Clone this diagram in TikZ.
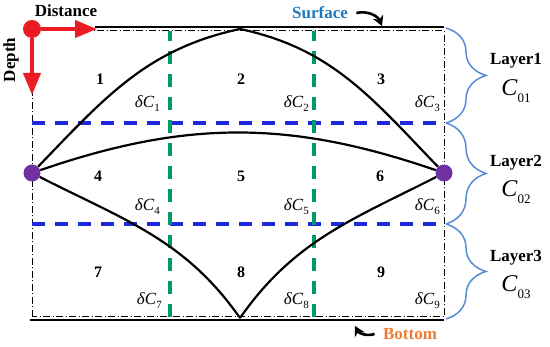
\documentclass[tikz,border=0pt]{standalone}
\usepackage{fontspec}
\setmainfont{Liberation Serif}
\usetikzlibrary{positioning,arrows.meta,calc,decorations.pathreplacing}

\definecolor{axred}{RGB}{236,28,36}
\definecolor{dotpurple}{RGB}{112,48,160}
\definecolor{layblue}{RGB}{30,40,220}
\definecolor{colgreen}{RGB}{0,155,105}
\definecolor{surfblue}{RGB}{31,121,190}
\definecolor{botorange}{RGB}{237,125,49}
\definecolor{bracblue}{RGB}{84,141,212}

\newcommand{\dC}[1]{\textit{δC}\raisebox{-0.5ex}{\fontsize{11}{11}\selectfont #1}}
\newcommand{\conc}[1]{\textit{C}\raisebox{-0.6ex}{\fontsize{13}{13}\selectfont #1}}

\begin{document}
\begin{tikzpicture}[x=1pt,y=1pt,
                num/.style={font=\fontsize{16}{16}\selectfont\bfseries},
                dlabel/.style={anchor=east, inner sep=0pt, font=\fontsize{17}{17}\selectfont},
                layer/.style={font=\fontsize{17}{17}\selectfont\bfseries},
                conclabel/.style={font=\fontsize{24}{24}\selectfont},
                bound/.style={line width=1pt, dash pattern=on 7pt off 2.5pt on 1pt off 2.5pt},
                layerline/.style={draw=layblue, line width=3.3pt, dash pattern=on 13pt off 10pt},
                colline/.style={draw=colgreen, line width=3.3pt, dash pattern=on 13pt off 10pt},
                curve/.style={line width=2.2pt},
                axis/.style={draw=axred, line width=4pt, -{Triangle[length=22pt,width=17pt]}},
                pdot/.style={circle, fill=dotpurple, inner sep=0pt, minimum size=17pt},
                laybrace/.style={draw=bracblue, line width=1.5pt, decorate,
                    decoration={brace, amplitude=40pt}},
                pointer/.style={line width=2.6pt, -{Stealth[length=10pt,width=11pt]}}
            ]
                \useasboundingbox (0,0) rectangle (550,347);

                % frame of the section
                \draw[bound] (32,30) rectangle (444,316);
                \draw[line width=1.1pt] (95,320) -- (444,320);
                \draw[line width=1.1pt] (30,27) -- (444,27);

                % layer and column limits
                \draw[layerline] (32,224) -- (444,224);
                \draw[layerline] (32,123) -- (444,123);
                \draw[colline] (170,30) -- (170,316);
                \draw[colline] (314,30) -- (314,316);

                % source and receiver
                \node[pdot] (lp) at (32,174) {};
                \node[pdot] (rp) at (444,174) {};
                \coordinate (top) at (240,318);
                \coordinate (cusp) at (240,29);

                \draw[curve] (lp) to[out=46,in=192] (top);
                \draw[curve] (top) to[out=-12,in=134] (rp);
                \draw[curve] (lp) to[out=19,in=161] (rp);
                \draw[curve] (lp) to[out=-27,in=125] (cusp);
                \draw[curve] (cusp) to[out=55,in=207] (rp);

                % axes
                \node[circle, fill=axred, inner sep=0pt, minimum size=18pt] (origin) at (32,318) {};
                \coordinate (xend) at (97,318);
                \coordinate (yend) at (32,252);
                \draw[axis] (origin) -- (xend);
                \draw[axis] (origin) -- (yend);
                \node[font=\fontsize{17}{17}\selectfont\bfseries] (distance) at (66,336) {Distance};
                \node[font=\fontsize{17}{17}\selectfont\bfseries, rotate=90] (depth) at (11,287) {Depth};

                % cells
                \node[num] (r1) at (100,268) {1};
                \node[num] (r2) at (241,268) {2};
                \node[num] (r3) at (381,268) {3};
                \node[num] (r4) at (98,171) {4};
                \node[num] (r5) at (241,171) {5};
                \node[num] (r6) at (380,171) {6};
                \node[num] (r7) at (98,75) {7};
                \node[num] (r8) at (241,75) {8};
                \node[num] (r9) at (381,75) {9};

                \node[dlabel] (d1) at (160,243) {\dC{1}};
                \node[dlabel] (d2) at (309,243) {\dC{2}};
                \node[dlabel] (d3) at (440,243) {\dC{3}};
                \node[dlabel] (d4) at (160,140) {\dC{4}};
                \node[dlabel] (d5) at (309,140) {\dC{5}};
                \node[dlabel] (d6) at (440,140) {\dC{6}};
                \node[dlabel] (d7) at (162,46) {\dC{7}};
                \node[dlabel] (d8) at (309,46) {\dC{8}};
                \node[dlabel] (d9) at (440,46) {\dC{9}};

                % surface and bottom marks
                \node[font=\fontsize{17}{17}\selectfont\bfseries, text=surfblue] (surface) at (320,334) {Surface};
                \coordinate (surfhit) at (382,321);
                \draw[pointer] ([xshift=5pt]surface.east) to[bend left=40] (surfhit);
                \node[font=\fontsize{17}{17}\selectfont\bfseries, text=botorange] (bottom) at (410,13) {Bottom};
                \coordinate (bothit) at (355,21);
                \draw[pointer] ([xshift=-5pt]bottom.west) to[bend left=40] (bothit);

                % layers
                \coordinate (b0) at (446,319);
                \coordinate (b1) at (446,224);
                \coordinate (b2) at (446,123);
                \coordinate (b3) at (446,28);
                \draw[laybrace] (b0) -- (b1);
                \draw[laybrace] (b1) -- (b2);
                \draw[laybrace] (b2) -- (b3);

                \node[layer] (l1) at (516,286) {Layer1};
                \node[conclabel] (c1) at (516,256) {\conc{01}};
                \node[layer] (l2) at (516,184) {Layer2};
                \node[conclabel] (c2) at (516,155) {\conc{02}};
                \node[layer] (l3) at (516,89) {Layer3};
                \node[conclabel] (c3) at (516,60) {\conc{03}};
            \end{tikzpicture}
\end{document}
